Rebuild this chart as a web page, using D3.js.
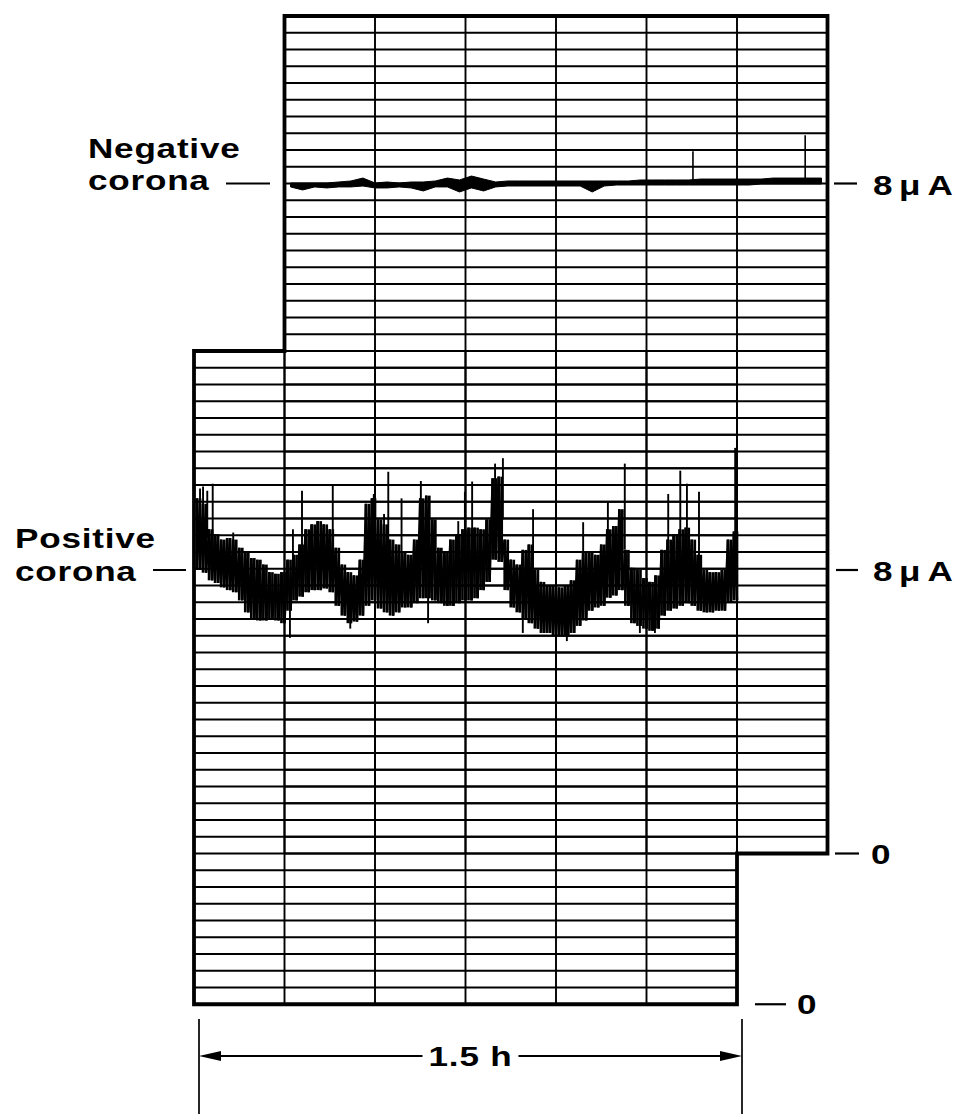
<!DOCTYPE html>
<html><head><meta charset="utf-8">
<script src="https://cdn.jsdelivr.net/npm/d3@7"></script>
<style>body{margin:0;background:#fff} svg{display:block}</style>
</head><body><svg id="c" width="964" height="1117"></svg>
<script>
// ---------- data ----------
// chart time in minutes (1.5 h = 90 min, 15 min per chart column)
const upperColumnMinutes = [15, 30, 45, 60, 75, 90, 105];
const lowerColumnMinutes = [0, 15, 30, 45, 60, 75, 90];
const upperDivisions = 50;   // chart rows on the upper (negative corona) strip
const lowerDivisions = 39;   // chart rows on the lower (positive corona) strip
const lowerTopRow = 30;      // upper-strip row where the lower strip's top edge lies

// Negative corona current (µA), sampled every 2 min: upper / lower edge of the pen trace
const negMinutes = [16,18,20,22,24,26,28,30,32,34,36,38,40,42,44,46,48,50,52,54,56,58,60,62,64,66,68,70,72,74,76,78,80,82,84,86,88,90,92,94,96,98,100,102,104];
const negHi = [8.006,8.006,8.006,8.006,8.018,8.030,8.065,8.006,8.018,8.006, 8.018,8.018,8.030,8.065,8.042,8.089,8.053,8.018,8.030,8.030, 8.030,8.030,8.030,8.030,8.030,8.030,8.030,8.030,8.030,8.042, 8.042,8.042,8.042,8.042,8.053,8.053,8.053,8.053,8.053,8.053, 8.065,8.065,8.065,8.065,8.065];
const negLo = [7.959,7.923,7.959,7.947,7.959,7.959,7.970,7.947,7.947,7.959, 7.947,7.911,7.959,7.959,7.899,7.947,7.911,7.959,7.970,7.970, 7.970,7.970,7.970,7.970,7.970,7.899,7.970,7.982,7.982,7.982, 7.982,7.982,7.982,7.982,7.982,7.982,7.982,7.982,7.982,7.994, 7.994,7.994,7.994,7.994,7.994];
const negSpikes = [[82.7, 8.386], [101.3, 8.576]];

// Positive corona current (µA), sampled every minute: top / bottom of the noisy band
const posMinutes = [1,2,3,4,5,6,7,8,9,10,11,12,13,14,15,16,17,18,19,20,21,22,23,24,25,26,27,28,29,30,31,32,33,34,35,36,37,38,39,40,41,42,43,44,45,46,47,48,49,50,51,52,53,54,55,56,57,58,59,60,61,62,63,64,65,66,67,68,69,70,71,72,73,74,75,76,77,78,79,80,81,82,83,84,85,86,87,88,89,90];
const posHi = [9.32,9.22,8.75,8.66,8.56,8.59,8.56,8.41,8.34,8.22, 8.19,8.10,7.96,7.93,7.96,8.19,8.28,8.47,8.75,8.84, 8.90,8.84,8.75,8.41,8.10,7.96,7.90,8.19,9.22,9.32, 8.93,8.84,8.56,8.47,8.34,8.28,8.56,9.32,9.37,8.93, 8.41,8.34,8.56,8.66,8.75,8.78,8.78,8.75,8.93,9.69, 9.72,8.56,8.19,8.10,8.37,8.47,8.00,7.78,7.72,7.72, 7.68,7.72,7.81,8.19,8.32,8.34,8.28,8.47,8.75,8.81, 9.12,8.37,8.04,8.00,7.85,7.78,7.90,8.37,8.56,8.66, 8.75,8.78,8.56,8.28,8.00,7.96,7.96,8.00,8.56,8.71];
const posLo = [8.00,7.95,7.81,7.76,7.68,7.63,7.59,7.44,7.22,7.10, 7.07,7.07,7.10,7.07,7.02,7.25,7.44,7.51,7.59,7.63, 7.63,7.66,7.59,7.34,7.16,7.02,7.05,7.16,7.34,7.44, 7.29,7.22,7.16,7.22,7.31,7.31,7.39,7.48,7.48,7.44, 7.39,7.34,7.34,7.39,7.44,7.44,7.48,7.63,7.78,8.19, 8.15,7.63,7.31,7.22,7.10,7.02,6.92,6.84,6.84,6.80, 6.78,6.78,6.84,6.97,7.07,7.25,7.31,7.34,7.49,7.53, 7.63,7.34,7.02,6.97,6.92,6.88,6.92,7.16,7.25,7.29, 7.34,7.39,7.34,7.25,7.22,7.22,7.25,7.25,7.41,7.44];
const posSpikesUp = [[1.0,9.50],[1.5,9.54],[2.2,9.46],[3.1,9.59],[6.5,8.69],[16.4,8.75],[17.9,9.46],[23.0,9.56],[29.8,9.40],[31.5,9.03],[32.2,9.81],[34.4,9.32],[37.6,9.64],[43.8,8.90],[44.9,9.44],[46.1,9.63],[49.9,9.96],[51.2,10.06],[56.2,9.12],[64.5,8.88],[68.6,9.25],[71.4,9.96],[78.6,9.40],[80.6,9.83],[81.7,9.59],[83.7,9.44],[89.7,10.25]];
const posSpikesDown = [[15.9,6.75],[25.9,6.92],[38.8,7.02],[54.5,6.84],[61.8,6.69],[73.9,6.84],[76.4,6.84]];

// labels
const negLabel = ["Negative", "corona"];
const posLabel = ["Positive", "corona"];
const levelLabel = ["8", "μ", "A"];
const zeroLabel = "0";
const spanLabel = "1.5 h";
const spanMinutes = [0, 90];

// ---------- scales ----------
const svg = d3.select('#c');
svg.append('rect').attr('width', 964).attr('height', 1117).attr('fill', '#fff');

const ROW = 16.75, TOP = 16;
const x = d3.scaleLinear().domain([0, 105]).range([194, 827.5]);
const yUpDiv = d3.scaleLinear().domain([upperDivisions, 0]).range([TOP, TOP + upperDivisions * ROW]);
const yLoDiv = d3.scaleLinear().domain([lowerDivisions, 0])
  .range([TOP + (upperDivisions - lowerTopRow) * ROW, TOP + (upperDivisions - lowerTopRow + lowerDivisions) * ROW]);
const yUp = d3.scaleLinear().domain([0, 10]).range([yUpDiv(0), yUpDiv(upperDivisions)]);  // upper strip, µA
const yLo = d3.scaleLinear().domain([0, 8]).range([yLoDiv(0), 570]);                      // lower strip, µA

const ink = '#000';
const FONT = '"Liberation Sans", Arial, Helvetica, sans-serif';

// ---------- chart paper grids ----------
const grid = svg.append('g');
function strip(cols, divs, yDiv) {
  grid.append('g').selectAll('line').data(d3.range(0, divs + 1)).join('line')
    .attr('x1', x(cols[0])).attr('x2', x(cols[cols.length - 1]))
    .attr('y1', d => yDiv(d)).attr('y2', d => yDiv(d))
    .attr('stroke', ink).attr('stroke-width', 2.2);
  grid.append('g').selectAll('line').data(cols).join('line')
    .attr('x1', d => x(d)).attr('x2', d => x(d))
    .attr('y1', yDiv(divs)).attr('y2', yDiv(0))
    .attr('stroke', ink).attr('stroke-width', 1.9);
}
strip(upperColumnMinutes, upperDivisions, yUpDiv);
strip(lowerColumnMinutes, lowerDivisions, yLoDiv);

// staircase outline of the two overlapping strips
const outline = d3.path();
outline.moveTo(x(upperColumnMinutes[0]), yUpDiv(upperDivisions));
outline.lineTo(x(upperColumnMinutes[6]), yUpDiv(upperDivisions));
outline.lineTo(x(upperColumnMinutes[6]), yUpDiv(0));
outline.lineTo(x(lowerColumnMinutes[6]), yUpDiv(0));
outline.lineTo(x(lowerColumnMinutes[6]), yLoDiv(0));
outline.lineTo(x(lowerColumnMinutes[0]), yLoDiv(0));
outline.lineTo(x(lowerColumnMinutes[0]), yLoDiv(lowerDivisions));
outline.lineTo(x(upperColumnMinutes[0]), yLoDiv(lowerDivisions));
outline.closePath();
svg.append('path').attr('d', outline.toString()).attr('fill', 'none')
  .attr('stroke', ink).attr('stroke-width', 3.8).attr('stroke-linejoin', 'miter');

// ---------- negative corona trace ----------
const negData = negMinutes.map((t, i) => ({ t, hi: negHi[i], lo: negLo[i] }));
svg.append('path').datum(negData)
  .attr('d', d3.area().x(d => x(d.t)).y0(d => yUp(d.lo)).y1(d => yUp(d.hi)))
  .attr('fill', ink).attr('stroke', ink).attr('stroke-width', 1.0);
svg.append('g').selectAll('line').data(negSpikes).join('line')
  .attr('x1', d => x(d[0])).attr('x2', d => x(d[0]))
  .attr('y1', yUp(8)).attr('y2', d => yUp(d[1]))
  .attr('stroke', ink).attr('stroke-width', 1.6);

// ---------- positive corona trace ----------
const posData = posMinutes.map((t, i) => ({ t, hi: posHi[i], lo: posLo[i] }));
// pen strokes: each sample's swing drawn as vertical pen strokes (hatched band)
const strokes = posData.flatMap(d => [{ t: d.t - 0.5, hi: d.hi, lo: d.lo }, { t: d.t, hi: d.hi, lo: d.lo }]);
svg.append('g').selectAll('line').data(strokes).join('line')
  .attr('x1', d => x(d.t)).attr('x2', d => x(d.t))
  .attr('y1', d => yLo(d.hi)).attr('y2', d => yLo(d.lo))
  .attr('stroke', ink).attr('stroke-width', 2.7);
// pen zig-zag between samples
const zig = posData.flatMap(d => [[d.t - 0.5, d.hi], [d.t, d.lo]]);
svg.append('path').datum(zig)
  .attr('d', d3.line().x(d => x(d[0])).y(d => yLo(d[1])))
  .attr('fill', 'none').attr('stroke', ink).attr('stroke-width', 2.4).attr('stroke-linejoin', 'bevel');
const bis = d3.bisector(d => d.t).center;
function bandMid(t) { const d = posData[bis(posData, t)]; return (d.hi + d.lo) / 2; }
svg.append('g').selectAll('line').data(posSpikesUp.concat(posSpikesDown)).join('line')
  .attr('x1', d => x(d[0])).attr('x2', d => x(d[0]))
  .attr('y1', d => yLo(bandMid(d[0]))).attr('y2', d => yLo(d[1]))
  .attr('stroke', ink).attr('stroke-width', 1.9);

// ---------- labels ----------
function label(tx, ty, str, anchor, ls) {
  const g = svg.append('g').attr('transform', `translate(${tx},${ty}) scale(1.3,1)`);
  return g.append('text').attr('x', 0).attr('y', 0).attr('text-anchor', anchor || 'start')
    .attr('font-family', FONT).attr('font-weight', 'bold').attr('font-size', 27)
    .attr('letter-spacing', ls == null ? 0.6 : ls).attr('fill', ink).text(str);
}
function levelText(tx, ty) {
  const t = label(tx, ty, '');
  t.selectAll('tspan').data(levelLabel).join('tspan')
    .attr('x', (d, i) => [0, 20, 42][i]).text(d => d);
}
function dash(x1, x2, y, w) {
  svg.append('line').attr('x1', x1).attr('x2', x2).attr('y1', y).attr('y2', y)
    .attr('stroke', ink).attr('stroke-width', w || 2.2);
}
// left labels
label(88, 158, negLabel[0]);
label(88, 190, negLabel[1]);
dash(226, 270, yUp(8));
label(15, 548, posLabel[0]);
label(15, 581, posLabel[1]);
dash(153, 186, yLo(8));
// right labels
dash(834, 857, yUp(8));
levelText(873, yUp(8) + 11);
dash(836, 858, yLo(8));
levelText(873, yLo(8) + 11);
dash(835, 859, yUp(0));
label(871, yUp(0) + 10, zeroLabel);
dash(755, 786, yLo(0));
label(797, yLo(0) + 10, zeroLabel);

// ---------- 1.5 h span marker ----------
const spanY = 1056;
const xs0 = x(spanMinutes[0]) + 5, xs1 = x(spanMinutes[1]) + 5;
[xs0, xs1].forEach(xx => svg.append('line').attr('x1', xx).attr('x2', xx)
  .attr('y1', 1019).attr('y2', 1114).attr('stroke', ink).attr('stroke-width', 1.7));
const midX = (xs0 + xs1) / 2;
dash(xs0 + 14, midX - 48, spanY);
dash(midX + 48, xs1 - 14, spanY);
svg.append('path').attr('d', `M${xs0},${spanY} L${xs0 + 22},${spanY - 5} L${xs0 + 22},${spanY + 5} Z`).attr('fill', ink);
svg.append('path').attr('d', `M${xs1},${spanY} L${xs1 - 22},${spanY - 5} L${xs1 - 22},${spanY + 5} Z`).attr('fill', ink);
label(midX, spanY + 10, spanLabel, 'middle');
</script>
</body></html>
